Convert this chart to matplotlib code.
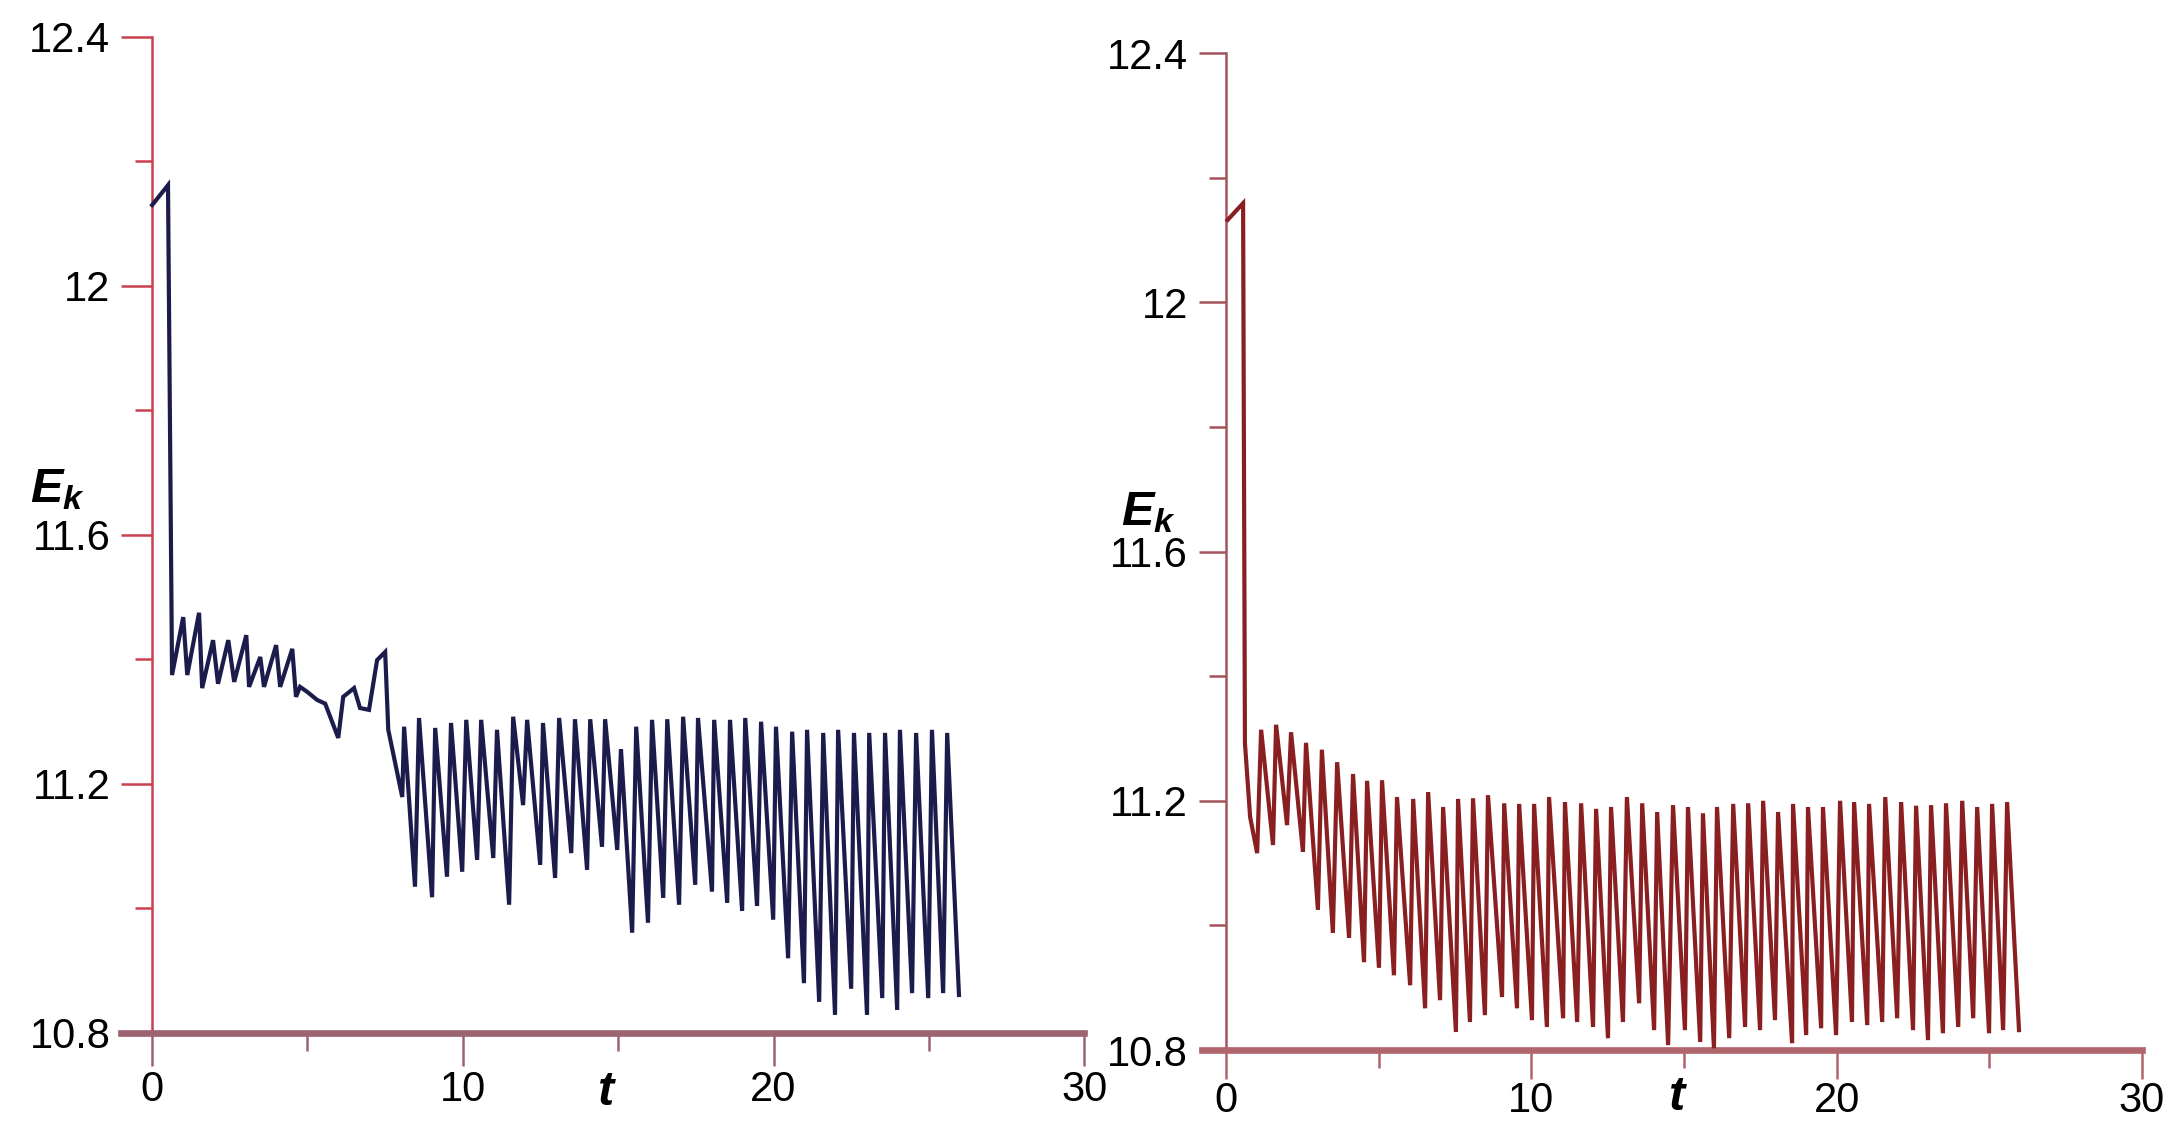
# -*- coding: utf-8 -*-
"""
Energia cinetica E_k frente al tiempo t, dos casos lado a lado.
Valores leidos a mano de la figura original (picos y valles).
"""

import matplotlib
matplotlib.use("Agg")
import matplotlib.pyplot as plt

# ------------------------------------------------------------
# Datos: panel izquierdo (curva azul oscuro)
# ------------------------------------------------------------
t_izq = [0.0, 0.51, 0.64, 1.00, 1.13, 1.51, 1.61, 1.96, 2.12, 2.45, 2.64,
         3.03, 3.12, 3.48, 3.60, 3.99, 4.12, 4.51, 4.63, 4.76, 4.99, 5.31,
         5.57, 5.99, 6.15, 6.50, 6.69, 6.98, 7.24, 7.50, 7.60, 8.05, 8.11,
         8.46, 8.59, 9.01, 9.11, 9.49, 9.62, 9.98, 10.11, 10.46, 10.59,
         10.98, 11.10, 11.49, 11.62, 11.94, 12.07, 12.49, 12.58, 12.97,
         13.10, 13.49, 13.61, 14.00, 14.10, 14.48, 14.58, 14.97, 15.09,
         15.45, 15.58, 15.96, 16.09, 16.45, 16.58, 16.96, 17.09, 17.48,
         17.57, 18.02, 18.09, 18.51, 18.60, 18.99, 19.09, 19.47, 19.60,
         19.99, 20.08, 20.47, 20.60, 20.98, 21.08, 21.47, 21.60, 21.98,
         22.08, 22.50, 22.59, 23.01, 23.08, 23.50, 23.59, 23.98, 24.07,
         24.46, 24.59, 24.98, 25.10, 25.46, 25.59, 25.97]
ek_izq = [12.13, 12.162, 11.375, 11.468, 11.375, 11.475, 11.354, 11.431,
          11.361, 11.431, 11.364, 11.439, 11.356, 11.404, 11.356, 11.423,
          11.356, 11.417, 11.340, 11.356, 11.348, 11.335, 11.329, 11.274,
          11.340, 11.354, 11.322, 11.319, 11.399, 11.412, 11.287, 11.179,
          11.292, 11.035, 11.306, 11.018, 11.290, 11.051, 11.298, 11.059,
          11.303, 11.078, 11.303, 11.081, 11.287, 11.006, 11.308, 11.166,
          11.303, 11.070, 11.298, 11.049, 11.306, 11.089, 11.304, 11.062,
          11.304, 11.099, 11.304, 11.094, 11.256, 10.961, 11.292, 10.977,
          11.303, 11.017, 11.304, 11.006, 11.308, 11.038, 11.306, 11.027,
          11.303, 11.009, 11.303, 10.996, 11.306, 11.004, 11.300, 10.982,
          11.292, 10.920, 11.284, 10.880, 11.287, 10.850, 11.282, 10.829,
          11.287, 10.871, 11.282, 10.829, 11.282, 10.856, 11.282, 10.837,
          11.287, 10.864, 11.282, 10.856, 11.287, 10.864, 11.282, 10.861]

# ------------------------------------------------------------
# Datos: panel derecho (curva roja oscura)
# ------------------------------------------------------------
t_der = [0.05, 0.56, 0.62, 0.79, 1.02, 1.15, 1.54, 1.64, 2.00, 2.13, 2.52,
         2.62, 3.01, 3.14, 3.50, 3.64, 4.03, 4.16, 4.52, 4.62, 5.01, 5.11,
         5.50, 5.60, 6.03, 6.13, 6.52, 6.62, 7.01, 7.11, 7.53, 7.60, 7.99,
         8.09, 8.48, 8.58, 9.04, 9.11, 9.53, 9.60, 10.02, 10.09, 10.51,
         10.58, 11.04, 11.10, 11.50, 11.63, 12.02, 12.12, 12.51, 12.61,
         13.00, 13.13, 13.53, 13.63, 14.02, 14.12, 14.48, 14.64, 15.03,
         15.13, 15.53, 15.62, 15.98, 16.08, 16.48, 16.61, 17.00, 17.10,
         17.49, 17.59, 17.98, 18.08, 18.54, 18.57, 19.00, 19.06, 19.49,
         19.55, 19.98, 20.11, 20.50, 20.57, 21.00, 21.06, 21.49, 21.59,
         21.98, 22.11, 22.50, 22.60, 22.99, 23.09, 23.48, 23.58, 23.98,
         24.11, 24.47, 24.60, 24.99, 25.09, 25.45, 25.58, 25.97]
ek_der = [12.132, 12.159, 11.293, 11.174, 11.116, 11.314, 11.129, 11.322,
          11.161, 11.310, 11.118, 11.293, 11.025, 11.282, 10.988, 11.262,
          10.980, 11.243, 10.941, 11.232, 10.932, 11.233, 10.920, 11.206,
          10.904, 11.203, 10.867, 11.214, 10.880, 11.190, 10.829, 11.203,
          10.845, 11.204, 10.856, 11.209, 10.885, 11.196, 10.867, 11.195,
          10.848, 11.195, 10.837, 11.206, 10.851, 11.198, 10.845, 11.196,
          10.837, 11.187, 10.819, 11.190, 10.845, 11.206, 10.875, 11.196,
          10.832, 11.182, 10.808, 11.193, 10.832, 11.190, 10.813, 11.180,
          10.803, 11.190, 10.819, 11.195, 10.837, 11.196, 10.832, 11.200,
          10.848, 11.182, 10.811, 11.195, 10.824, 11.190, 10.835, 11.190,
          10.824, 11.200, 10.845, 11.198, 10.840, 11.195, 10.845, 11.206,
          10.851, 11.198, 10.832, 11.192, 10.816, 11.193, 10.827, 11.196,
          10.837, 11.200, 10.851, 11.190, 10.827, 11.195, 10.832, 11.198,
          10.832]

# ------------------------------------------------------------
# Ejes y etiquetas
# ------------------------------------------------------------
x_mayores = [0, 10, 20, 30]
x_menores = [5, 15, 25]
y_mayores = [10.8, 11.2, 11.6, 12.0, 12.4]
y_menores = [11.0, 11.4, 11.8, 12.2]
y_etiquetas = ["10.8", "11.2", "11.6", "12", "12.4"]

plt.rcParams['font.family'] = ['Liberation Sans', 'DejaVu Sans']
plt.rcParams['mathtext.fontset'] = 'custom'
plt.rcParams['mathtext.it'] = 'Liberation Sans:bold:italic'
plt.rcParams['mathtext.rm'] = 'Liberation Sans:bold'


def dibujar_panel(ax, t, ek, color_linea, color_y, color_x, x_min,
                  ylen, xlen, xpad, lab_xy, t_xy):
    """Dibuja un panel al estilo de la figura original."""
    ax.plot(t, ek, color=color_linea, lw=3.0, solid_joinstyle='miter',
            clip_on=False, zorder=3)
    ax.set_xlim(x_min, 30)
    ax.set_ylim(10.8, 12.4)

    ax.spines['top'].set_visible(False)
    ax.spines['right'].set_visible(False)
    ax.spines['left'].set_position(('data', 0))
    ax.spines['left'].set_color(color_y)
    ax.spines['left'].set_linewidth(1.8)
    ax.spines['bottom'].set_color(color_x)
    ax.spines['bottom'].set_linewidth(4.8)

    ax.set_xticks(x_mayores)
    ax.set_xticks(x_menores, minor=True)
    ax.set_xticklabels([str(v) for v in x_mayores])
    ax.set_yticks(y_mayores)
    ax.set_yticks(y_menores, minor=True)
    ax.set_yticklabels(y_etiquetas)

    ax.tick_params(axis='y', which='major', direction='out', length=ylen,
                   width=1.8, color=color_y, pad=8, labelsize=30)
    ax.tick_params(axis='y', which='minor', direction='out', length=12,
                   width=1.8, color=color_y)
    ax.tick_params(axis='x', which='major', direction='out', length=xlen,
                   width=1.8, color=color_x, pad=xpad, labelsize=30)
    ax.tick_params(axis='x', which='minor', direction='out', length=13,
                   width=1.8, color=color_x)

    ax.text(lab_xy[0], lab_xy[1], r'$E_k$', transform=ax.transAxes,
            fontsize=35, ha='center', va='center')
    ax.text(t_xy[0], t_xy[1], r'$t$', transform=ax.transAxes,
            fontsize=35, ha='center', va='center')


fig = plt.figure(figsize=(21.74, 11.24), dpi=100)
fig.patch.set_facecolor('white')

ax1 = fig.add_axes([0.0557, 0.0810, 0.4430, 0.8861])
dibujar_panel(ax1, t_izq, ek_izq, '#1c1c4c', '#c8414f', '#9c6470', -1.0,
              22, 24, 3, (-0.066, 0.545), (0.504, -0.060))

ax2 = fig.add_axes([0.5527, 0.0658, 0.4326, 0.8870])
dibujar_panel(ax2, t_der, ek_der, '#8a1f22', '#a4545c', '#b0646c', -0.8,
              19.5, 21, 1, (-0.057, 0.539), (0.507, -0.048))

fig.savefig("out.png", dpi=100, facecolor='white')
plt.close(fig)
